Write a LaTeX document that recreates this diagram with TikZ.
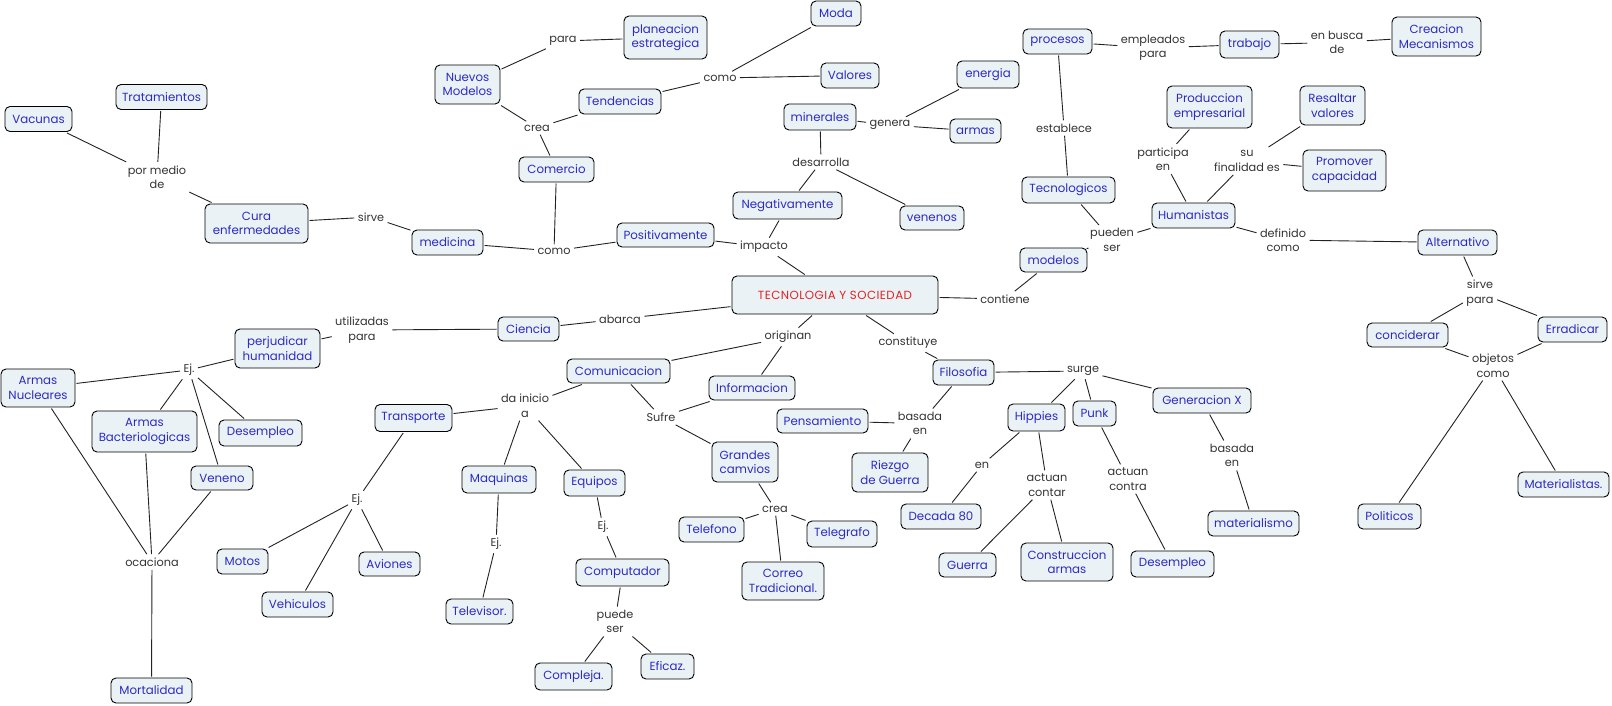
\documentclass[tikz,border=0pt]{standalone}
\usepackage{fontspec}
\newfontfamily\mapfont{Poppins}
\newfontfamily\titlefont[LetterSpace=4]{Poppins}
\definecolor{boxfill}{HTML}{EBF2F6}
\definecolor{boxtext}{HTML}{2B2BC4}
\definecolor{titletext}{HTML}{E02424}
\definecolor{linktext}{HTML}{333333}
\definecolor{edge}{HTML}{222222}
\tikzset{
  box/.style={draw=black, line width=0.9pt, rounded corners=5pt, fill=boxfill, text=boxtext,
    font=\mapfont\fontsize{11.8}{14.5}\selectfont, align=center, inner xsep=3pt, inner ysep=2pt, outer sep=1.5pt},
  bx/.style 2 args={minimum width=#1pt, minimum height=#2pt},
  lk/.style={text=linktext, font=\mapfont\fontsize{11.3}{14.5}\selectfont, align=center, inner sep=1.5pt, outer sep=2pt},
  con/.style={draw=edge, line width=0.9pt}
}
\begin{document}
\begin{tikzpicture}[x=1pt,y=-1pt]
\useasboundingbox (0,0) rectangle (1612,705);
% concept boxes
\node[box,bx={91}{25}] (trat) at (161.5,97) {Tratamientos};
\node[box,bx={67}{25}] (vac) at (38.5,119) {Vacunas};
\node[box,bx={103}{39}] (cura) at (256.5,223.5) {Cura\\enfermedades};
\node[box,bx={71}{25}] (medicina) at (447.5,242.5) {medicina};
\node[box,bx={83}{43}] (planea) at (665.5,37.5) {planeacion\\estrategica};
\node[box,bx={65}{39}] (nuevos) at (467.5,84.5) {Nuevos\\Modelos};
\node[box,bx={82}{25}] (tend) at (620,101.5) {Tendencias};
\node[box,bx={75}{25}] (comercio) at (556.5,169.5) {Comercio};
\node[box,bx={50}{25}] (moda) at (836,13.5) {Moda};
\node[box,bx={58}{25}] (valores) at (850,75.5) {Valores};
\node[box,bx={62}{27}] (energia) at (988,74.5) {energia};
\node[box,bx={72}{26}] (minerales) at (820,117) {minerales};
\node[box,bx={51}{24}] (armas) at (975.5,131) {armas};
\node[box,bx={64}{24}] (venenos) at (932,218) {venenos};
\node[box,bx={109}{27}] (negat) at (787.5,205.5) {Negativamente};
\node[box,bx={97}{24}] (positiv) at (665.5,235) {Positivamente};
\node[box,bx={69}{25}] (procesos) at (1057.5,41.5) {procesos};
\node[box,bx={59}{27}] (trabajo) at (1249.5,44.5) {trabajo};
\node[box,bx={89}{39}] (creacion) at (1436.5,36.5) {Creacion\\Mecanismos};
\node[box,bx={85}{42}] (produc) at (1209.5,107) {Produccion\\empresarial};
\node[box,bx={65}{39}] (resaltar) at (1332.5,105.5) {Resaltar\\valores};
\node[box,bx={83}{41}] (promover) at (1344.5,170.5) {Promover\\capacidad};
\node[box,bx={93}{26}] (tecno) at (1068.5,190) {Tecnologicos};
\node[box,bx={83}{25}] (human) at (1193.5,215.5) {Humanistas};
\node[box,bx={79}{25}] (altern) at (1457.5,242.5) {Alternativo};
\node[box,bx={67}{24}] (modelos) at (1053.5,260) {modelos};
\node[box,bx={206}{38},text=titletext,font=\titlefont\fontsize{11.8}{14.5}\selectfont] (tec) at (835,295) {TECNOLOGIA Y SOCIEDAD};
\node[box,bx={61}{24}] (ciencia) at (528.5,329) {Ciencia};
\node[box,bx={85}{39}] (perj) at (277.5,348.5) {perjudicar\\humanidad};
\node[box,bx={74}{38}] (nucl) at (38,388) {Armas\\Nucleares};
\node[box,bx={105}{41}] (bact) at (144.5,431.5) {Armas\\Bacteriologicas};
\node[box,bx={83}{26}] (desemp1) at (260.5,433) {Desempleo};
\node[box,bx={62}{24}] (veneno) at (222,478) {Veneno};
\node[box,bx={77}{27}] (transp) at (413.5,418) {Transporte};
\node[box,bx={103}{24}] (comun) at (618.5,371) {Comunicacion};
\node[box,bx={86}{24}] (info) at (752,388) {Informacion};
\node[box,bx={91}{24}] (pensam) at (822.5,421) {Pensamiento};
\node[box,bx={66}{40}] (grandes) at (745,462) {Grandes\\camvios};
\node[box,bx={74}{27}] (maq) at (499,479.5) {Maquinas};
\node[box,bx={61}{26}] (equip) at (594.5,483) {Equipos};
\node[box,bx={61}{25}] (filo) at (963.5,372.5) {Filosofia};
\node[box,bx={98}{25}] (genx) at (1202,400.5) {Generacion X};
\node[box,bx={57}{27}] (hippies) at (1036.5,417.5) {Hippies};
\node[box,bx={43}{25}] (punk) at (1094.5,413.5) {Punk};
\node[box,bx={76}{39}] (riezgo) at (890,472.5) {Riezgo\\de Guerra};
\node[box,bx={80}{25}] (decada) at (941,516.5) {Decada 80};
\node[box,bx={70}{26}] (telegrafo) at (842,534) {Telegrafo};
\node[box,bx={57}{24}] (guerra) at (967.5,565) {Guerra};
\node[box,bx={92}{38}] (constr) at (1067,562) {Construccion\\armas};
\node[box,bx={83}{26}] (desemp2) at (1172.5,564) {Desempleo};
\node[box,bx={82}{38}] (correo) at (783,581) {Correo\\Tradicional.};
\node[box,bx={65}{25}] (telefono) at (711.5,529.5) {Telefono};
\node[box,bx={93}{27}] (comput) at (622.5,572.5) {Computador};
\node[box,bx={67}{25}] (telev) at (479.5,611.5) {Televisor.};
\node[box,bx={77}{27}] (compleja) at (573.5,676.5) {Compleja.};
\node[box,bx={53}{25}] (eficaz) at (667.5,666.5) {Eficaz.};
\node[box,bx={81}{25}] (mort) at (151.5,690.5) {Mortalidad};
\node[box,bx={51}{25}] (motos) at (242.5,561.5) {Motos};
\node[box,bx={71}{25}] (vehic) at (297.5,604.5) {Vehiculos};
\node[box,bx={61}{24}] (aviones) at (389.5,564) {Aviones};
\node[box,bx={81}{24}] (concid) at (1407.5,335) {conciderar};
\node[box,bx={69}{25}] (errad) at (1572.5,329.5) {Erradicar};
\node[box,bx={91}{25}] (materialismo) at (1253.5,523.5) {materialismo};
\node[box,bx={63}{25}] (politicos) at (1389.5,516.5) {Politicos};
\node[box,bx={91}{25}] (materialistas) at (1563.5,484.5) {Materialistas.};
% linking phrases
\node[lk] (pormedio) at (157,177) {por medio\\de};
\node[lk] (sirve1) at (371,217) {sirve};
\node[lk] (como2) at (554,251) {como};
\node[lk] (impacto) at (764,247) {impacto};
\node[lk] (crea1) at (537,128) {crea};
\node[lk] (para1) at (563,41) {para};
\node[lk] (como1) at (720,78) {como};
\node[lk] (genera) at (890,125) {genera};
\node[lk] (desarrolla) at (821,162) {desarrolla};
\node[lk] (establece) at (1064,128) {establece};
\node[lk] (empleados) at (1153,48) {empleados\\para};
\node[lk] (enbusca) at (1337,42.5) {en busca\\de};
\node[lk] (participa) at (1163,159) {participa\\en};
\node[lk] (finalidad) at (1247,161) {su\\finalidad es};
\node[lk] (pueden) at (1112,240) {pueden\\ser};
\node[lk] (definido) at (1283,240) {definido\\como};
\node[lk] (contiene) at (1005,299) {contiene};
\node[lk] (sirvepara) at (1480,293) {sirve\\para};
\node[lk] (objetos) at (1493,365.5) {objetos\\como};
\node[lk] (abarca) at (620,319) {abarca};
\node[lk] (utiliz) at (362,330) {utilizadas\\para};
\node[lk] (ej1) at (189,370) {Ej.};
\node[lk] (ocaciona) at (152,562) {ocaciona};
\node[lk] (originan) at (788,337) {originan};
\node[lk] (dainicio) at (525,405.5) {da inicio\\a};
\node[lk] (sufre) at (661,417) {Sufre};
\node[lk] (ej2) at (357,500) {Ej.};
\node[lk] (ej3) at (496,544) {Ej.};
\node[lk] (ej4) at (603,527) {Ej.};
\node[lk] (puede) at (615,621.5) {puede\\ser};
\node[lk] (crea2) at (775,509) {crea};
\node[lk] (constituye) at (908,343) {constituye};
\node[lk] (surge) at (1083,371) {surge};
\node[lk] (basada1) at (920,423.5) {basada\\en};
\node[lk] (en) at (982,465) {en};
\node[lk] (actuan1) at (1047,485) {actuan\\contar};
\node[lk] (actuan2) at (1128,479) {actuan\\contra};
\node[lk] (basada2) at (1232,455.5) {basada\\en};
% connectors
\draw[con] (vac) -- (pormedio);
\draw[con] (trat) -- (pormedio);
\draw[con] (pormedio) -- (cura);
\draw[con] (cura) -- (sirve1);
\draw[con] (sirve1) -- (medicina);
\draw[con] (medicina) -- (como2);
\draw[con] (como2) -- (comercio);
\draw[con] (como2) -- (positiv);
\draw[con] (positiv) -- (impacto);
\draw[con] (negat) -- (impacto);
\draw[con] (impacto) -- (tec);
\draw[con] (negat) -- (desarrolla);
\draw[con] (desarrolla) -- (minerales);
\draw[con] (desarrolla) -- (venenos);
\draw[con] (minerales) -- (genera);
\draw[con] (genera) -- (energia);
\draw[con] (genera) -- (armas);
\draw[con] (comercio) -- (crea1);
\draw[con] (crea1) -- (nuevos);
\draw[con] (crea1) -- (tend);
\draw[con] (nuevos) -- (para1);
\draw[con] (para1) -- (planea);
\draw[con] (tend) -- (como1);
\draw[con] (como1) -- (moda);
\draw[con] (como1) -- (valores);
\draw[con] (tec) -- (abarca);
\draw[con] (abarca) -- (ciencia);
\draw[con] (ciencia) -- (utiliz);
\draw[con] (utiliz) -- (perj);
\draw[con] (perj) -- (ej1);
\draw[con] (ej1) -- (nucl);
\draw[con] (ej1) -- (bact);
\draw[con] (ej1) -- (veneno);
\draw[con] (ej1) -- (desemp1);
\draw[con] (nucl) -- (ocaciona);
\draw[con] (bact) -- (ocaciona);
\draw[con] (veneno) -- (ocaciona);
\draw[con] (ocaciona) -- (mort);
\draw[con] (tec) -- (originan);
\draw[con] (originan) -- (comun);
\draw[con] (originan) -- (info);
\draw[con] (comun) -- (dainicio);
\draw[con] (dainicio) -- (transp);
\draw[con] (dainicio) -- (maq);
\draw[con] (dainicio) -- (equip);
\draw[con] (comun) -- (sufre);
\draw[con] (sufre) -- (info);
\draw[con] (sufre) -- (grandes);
\draw[con] (transp) -- (ej2);
\draw[con] (ej2) -- (motos);
\draw[con] (ej2) -- (vehic);
\draw[con] (ej2) -- (aviones);
\draw[con] (maq) -- (ej3);
\draw[con] (ej3) -- (telev);
\draw[con] (equip) -- (ej4);
\draw[con] (ej4) -- (comput);
\draw[con] (comput) -- (puede);
\draw[con] (puede) -- (compleja);
\draw[con] (puede) -- (eficaz);
\draw[con] (grandes) -- (crea2);
\draw[con] (crea2) -- (telefono);
\draw[con] (crea2) -- (telegrafo);
\draw[con] (crea2) -- (correo);
\draw[con] (tec) -- (constituye);
\draw[con] (constituye) -- (filo);
\draw[con] (filo) -- (surge);
\draw[con] (surge) -- (hippies);
\draw[con] (surge) -- (punk);
\draw[con] (surge) -- (genx);
\draw[con] (filo) -- (basada1);
\draw[con] (basada1) -- (pensam);
\draw[con] (basada1) -- (riezgo);
\draw[con] (hippies) -- (en);
\draw[con] (en) -- (decada);
\draw[con] (hippies) -- (actuan1);
\draw[con] (actuan1) -- (guerra);
\draw[con] (actuan1) -- (constr);
\draw[con] (punk) -- (actuan2);
\draw[con] (actuan2) -- (desemp2);
\draw[con] (genx) -- (basada2);
\draw[con] (basada2) -- (materialismo);
\draw[con] (tec) -- (contiene);
\draw[con] (contiene) -- (modelos);
\draw[con] (modelos) -- (pueden);
\draw[con] (pueden) -- (tecno);
\draw[con] (pueden) -- (human);
\draw[con] (tecno) -- (establece);
\draw[con] (establece) -- (procesos);
\draw[con] (procesos) -- (empleados);
\draw[con] (empleados) -- (trabajo);
\draw[con] (trabajo) -- (enbusca);
\draw[con] (enbusca) -- (creacion);
\draw[con] (human) -- (participa);
\draw[con] (participa) -- (produc);
\draw[con] (human) -- (finalidad);
\draw[con] (finalidad) -- (resaltar);
\draw[con] (finalidad) -- (promover);
\draw[con] (human) -- (definido);
\draw[con] (definido) -- (altern);
\draw[con] (altern) -- (sirvepara);
\draw[con] (sirvepara) -- (concid);
\draw[con] (sirvepara) -- (errad);
\draw[con] (concid) -- (objetos);
\draw[con] (errad) -- (objetos);
\draw[con] (objetos) -- (politicos);
\draw[con] (objetos) -- (materialistas);
\end{tikzpicture}
\end{document}
